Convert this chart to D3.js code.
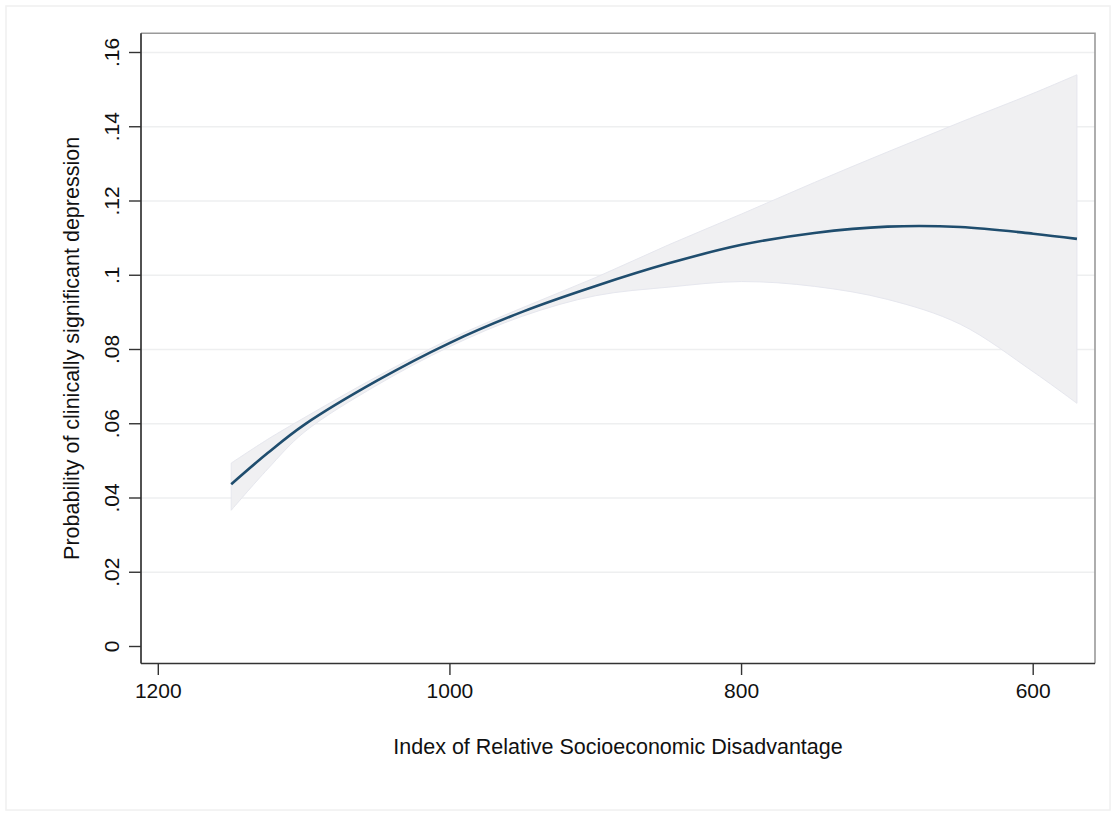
<!DOCTYPE html>
<html>
<head>
<meta charset="utf-8">
<script src="https://cdn.jsdelivr.net/npm/d3@7"></script>
<style>
  body { margin: 0; background: #fff; }
  text { font-family: "Liberation Sans", Arial, Helvetica, sans-serif; fill: #111; }
</style>
</head>
<body>
<div id="chart"></div>
<script>
// index values (x) and predicted probability with its 95% band
const irsd = [1150, 1125, 1100, 1050, 1000, 950, 900, 850, 800, 750, 700, 650, 600, 570];
const fitted = [0.0437, 0.0521, 0.0597, 0.0716, 0.0818, 0.0902, 0.0971, 0.1032, 0.1082, 0.1114, 0.1131, 0.1130, 0.1112, 0.1098];
const upper = [0.0494, 0.0558, 0.0616, 0.0727, 0.0828, 0.0913, 0.0994, 0.1082, 0.1165, 0.1250, 0.1332, 0.1412, 0.1490, 0.1540];
const lower = [0.0367, 0.0478, 0.0577, 0.0704, 0.0808, 0.0890, 0.0945, 0.0968, 0.0983, 0.0970, 0.0935, 0.0868, 0.0740, 0.0655];

const xTicks = [1200, 1000, 800, 600];
const yTicks = [0, 0.02, 0.04, 0.06, 0.08, 0.10, 0.12, 0.14, 0.16];
const yTickLabels = ["0", ".02", ".04", ".06", ".08", ".1", ".12", ".14", ".16"];

const width = 1120, height = 816;
const plot = { left: 141, right: 1095, top: 33.3, bottom: 663.5 };

const svg = d3.select("#chart").append("svg")
  .attr("width", width)
  .attr("height", height);

// faint outer graph border
svg.append("rect")
  .attr("x", 6).attr("y", 6)
  .attr("width", 1104).attr("height", 804)
  .attr("fill", "#fff")
  .attr("stroke", "#f0f0f0")
  .attr("stroke-width", 1.5);

const x = d3.scaleLinear().domain([1200, 600]).range([158.3, 1033.2]);
const y = d3.scaleLinear().domain([0, 0.16]).range([646.5, 52.5]);

const rows = irsd.map((v, i) => ({ x: v, fit: fitted[i], hi: upper[i], lo: lower[i] }));

// gridlines
svg.append("g")
  .selectAll("line")
  .data(yTicks.filter(d => d > 0))
  .join("line")
  .attr("x1", plot.left).attr("x2", plot.right)
  .attr("y1", d => y(d)).attr("y2", d => y(d))
  .attr("stroke", "#eeeff0")
  .attr("stroke-width", 1.6);

// confidence band
const band = d3.area()
  .x(d => x(d.x))
  .y0(d => y(d.lo))
  .y1(d => y(d.hi))
  .curve(d3.curveCatmullRom.alpha(0.5));

svg.append("path")
  .datum(rows)
  .attr("d", band)
  .attr("fill", "#f0f0f2")
  .attr("stroke", "#e6e7ee")
  .attr("stroke-width", 1);

// fitted line
const line = d3.line()
  .x(d => x(d.x))
  .y(d => y(d.fit))
  .curve(d3.curveCatmullRom.alpha(0.5));

svg.append("path")
  .datum(rows)
  .attr("d", line)
  .attr("fill", "none")
  .attr("stroke", "#1f4d6e")
  .attr("stroke-width", 2.6);

// plot region outline (top / right lighter)
svg.append("path")
  .attr("d", `M${plot.left},${plot.top}H${plot.right}V${plot.bottom}`)
  .attr("fill", "none")
  .attr("stroke", "#9a9a9a")
  .attr("stroke-width", 1.6);

// y axis
const yAxis = svg.append("g");
yAxis.append("line")
  .attr("x1", plot.left).attr("x2", plot.left)
  .attr("y1", plot.top).attr("y2", plot.bottom)
  .attr("stroke", "#333").attr("stroke-width", 1.7);
yAxis.selectAll(".ytick")
  .data(yTicks)
  .join("line")
  .attr("x1", 129).attr("x2", plot.left)
  .attr("y1", d => y(d)).attr("y2", d => y(d))
  .attr("stroke", "#333").attr("stroke-width", 1.4);
yAxis.selectAll(".ylab")
  .data(yTicks)
  .join("text")
  .attr("transform", d => `translate(118.5,${y(d)}) rotate(-90)`)
  .attr("text-anchor", "middle")
  .style("font-size", "21px")
  .text((d, i) => yTickLabels[i]);

// x axis
const xAxis = svg.append("g");
xAxis.append("line")
  .attr("x1", plot.left).attr("x2", plot.right)
  .attr("y1", plot.bottom).attr("y2", plot.bottom)
  .attr("stroke", "#333").attr("stroke-width", 1.7);
xAxis.selectAll(".xtick")
  .data(xTicks)
  .join("line")
  .attr("x1", d => x(d)).attr("x2", d => x(d))
  .attr("y1", plot.bottom).attr("y2", 675)
  .attr("stroke", "#333").attr("stroke-width", 1.4);
xAxis.selectAll(".xlab")
  .data(xTicks)
  .join("text")
  .attr("x", d => x(d))
  .attr("y", 697.7)
  .attr("text-anchor", "middle")
  .style("font-size", "21px")
  .text(d => d);

// axis titles
svg.append("text")
  .attr("x", (plot.left + plot.right) / 2)
  .attr("y", 754.3)
  .attr("text-anchor", "middle")
  .style("font-size", "21.5px")
  .text("Index of Relative Socioeconomic Disadvantage");

svg.append("text")
  .attr("transform", `translate(79,${(plot.top + plot.bottom) / 2}) rotate(-90)`)
  .attr("text-anchor", "middle")
  .style("font-size", "21.5px")
  .text("Probability of clinically significant depression");
</script>
</body>
</html>
